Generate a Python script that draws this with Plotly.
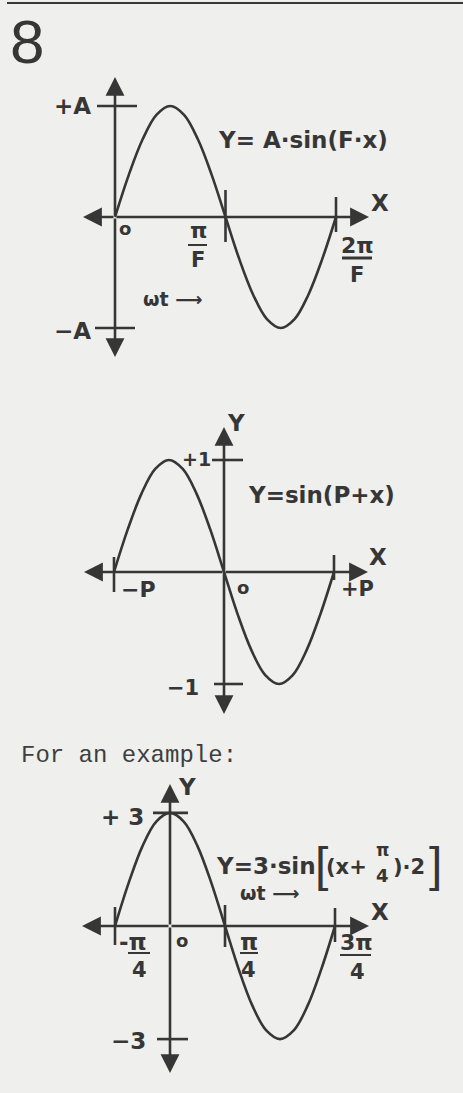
import plotly.graph_objects as go

# ---------------- values ----------------
# Graph 1 : Y = A·sin(F·x)   (x in units of π/F, y in units of A)
g1_x = [0, 0.125, 0.25, 0.375, 0.5, 0.625, 0.75, 0.875, 1.0,
        1.125, 1.25, 1.375, 1.5, 1.625, 1.75, 1.875, 2.0]
g1_y = [0, 0.38, 0.70, 0.92, 1.0, 0.92, 0.70, 0.38, 0,
        -0.38, -0.70, -0.92, -1.0, -0.92, -0.70, -0.38, 0]
g1_xticks = [1, 2]
g1_xtick_num = ["π", "2π"]
g1_xtick_den = ["F", "F"]
g1_yticks = [1, -1]
g1_ytick_labels = ["+A", "−A"]

# Graph 2 : Y = sin(P + x)   (x in units of P)
g2_x = [-1.0, -0.875, -0.75, -0.625, -0.5, -0.375, -0.25, -0.125, 0,
        0.125, 0.25, 0.375, 0.5, 0.625, 0.75, 0.875, 1.0]
g2_y = [0, 0.38, 0.70, 0.92, 1.0, 0.92, 0.70, 0.38, 0,
        -0.38, -0.70, -0.92, -1.0, -0.92, -0.70, -0.38, 0]
g2_xticks = [-1, 1]
g2_xtick_labels = ["−P", "+P"]
g2_yticks = [1, -1]
g2_ytick_labels = ["+1", "−1"]

# Graph 3 : Y = 3·sin[(x + π/4)·2]   (x in units of π/4)
g3_x = [-1.0, -0.75, -0.5, -0.25, 0, 0.25, 0.5, 0.75, 1.0,
        1.25, 1.5, 1.75, 2.0, 2.25, 2.5, 2.75, 3.0]
g3_y = [0, 1.15, 2.12, 2.77, 3.0, 2.77, 2.12, 1.15, 0,
        -1.15, -2.12, -2.77, -3.0, -2.77, -2.12, -1.15, 0]
g3_xticks = [-1, 1, 3]
g3_xtick_num = ["-π", "π", "3π"]
g3_xtick_den = ["4", "4", "4"]
g3_yticks = [3, -3]
g3_ytick_labels = ["+ 3", "−3"]

# ---------------- page / style ----------------
W, H = 463, 1093
BG = "#efefed"
INK = "#363636"
SANS = "DejaVu Sans"
LW = 2.6

# pixel calibration of every graph: origin (px), pixels per unit, arrow tips (px)
G = {
    1: dict(ox=115, oy=217, sx=110.5, sy=111, xl=83, xr=369, yt=77, yb=357,
            xt_ext=[(27, 25), (20, 15)], yt_ext=[(18, 22), (20, 20)]),
    2: dict(ox=224, oy=572, sx=110, sy=112, xl=84, xr=368, yt=427, yb=714,
            xt_ext=[(15, 20), (17, 8)], yt_ext=[(12, 19), (10, 19)]),
    3: dict(ox=170, oy=926, sx=55, sy=37.7, xl=82, xr=369, yt=784, yb=1073,
            xt_ext=[(19, 19), (21, 21), (18, 16)], yt_ext=[(17, 18), (13, 18)]),
}

fig = go.Figure()
shapes = []
annos = []


def ax_names(k):
    return ("x", "y") if k == 1 else (f"x{k}", f"y{k}")


def to_data(k, xp, yp):
    g = G[k]
    return (xp - g["ox"]) / g["sx"], (g["oy"] - yp) / g["sy"]


def paper(xp, yp):
    return xp / W, 1 - yp / H


def label(xp, yp, s, size, xanchor="center", family=SANS, bold=True, color=INK,
          yanchor="middle"):
    x, y = paper(xp, yp)
    annos.append(dict(x=x, y=y, xref="paper", yref="paper", text=(f"<b>{s}</b>" if bold else s),
                      showarrow=False, xanchor=xanchor, yanchor=yanchor,
                      font=dict(family=family, size=size, color=color)))


def bar(x0, x1, yp, w=2):
    a, b = paper(x0, yp)
    c, d = paper(x1, yp)
    shapes.append(dict(type="line", xref="paper", yref="paper", x0=a, y0=b, x1=c, y1=d,
                       line=dict(color=INK, width=w)))


def graph(k, xs, ys, xticks, yticks):
    g = G[k]
    xa, ya = ax_names(k)
    fig.add_trace(go.Scatter(x=xs, y=ys, mode="lines", xaxis=xa, yaxis=ya,
                             line=dict(color=INK, width=LW, shape="spline", smoothing=1.0),
                             hoverinfo="skip"))
    # axes with arrowheads
    xl, _ = to_data(k, g["xl"], g["oy"])
    xr, _ = to_data(k, g["xr"], g["oy"])
    _, yt = to_data(k, g["ox"], g["yt"])
    _, yb = to_data(k, g["ox"], g["yb"])
    for (tx, ty) in [(xl, 0), (xr, 0), (0, yt), (0, yb)]:
        annos.append(dict(x=tx, y=ty, ax=0, ay=0, xref=xa, yref=ya, axref=xa, ayref=ya,
                          text="", showarrow=True, arrowhead=2, arrowsize=1.45,
                          arrowwidth=LW, arrowcolor=INK, standoff=0))
    # tick marks
    for v, (up, dn) in zip(xticks, g["xt_ext"]):
        shapes.append(dict(type="line", xref=xa, yref=ya, x0=v, x1=v,
                           y0=up / g["sy"], y1=-dn / g["sy"], line=dict(color=INK, width=LW)))
    for v, (lf, rt) in zip(yticks, g["yt_ext"]):
        shapes.append(dict(type="line", xref=xa, yref=ya, y0=v, y1=v,
                           x0=-lf / g["sx"], x1=rt / g["sx"], line=dict(color=INK, width=LW)))


graph(1, g1_x, g1_y, g1_xticks, g1_yticks)
graph(2, g2_x, g2_y, g2_xticks, g2_yticks)
graph(3, g3_x, g3_y, g3_xticks, g3_yticks)

# ---------------- header ----------------
a, b = paper(7, 3)
c, d = paper(W, 3)
shapes.append(dict(type="line", xref="paper", yref="paper", x0=a, y0=b, x1=c, y1=d,
                   line=dict(color=INK, width=2)))
label(27, 41, "8", 62, family="Liberation Sans", bold=False)

# ---------------- graph 1 labels ----------------
label(93, 106, g1_ytick_labels[0], 23, xanchor="right")
label(93, 331, g1_ytick_labels[1], 23, xanchor="right")
label(125, 229, "o", 18)
label(198, 244.5, g1_xtick_num[0], 22, yanchor="bottom")
bar(188, 207, 245, 2)
label(198, 246, g1_xtick_den[0], 21, yanchor="top")
label(357, 246, g1_xtick_num[1], 22)
bar(342, 372, 258, 3)
label(357, 275, g1_xtick_den[1], 21)
label(380, 203, "X", 23)
label(216, 140, "Y= A·sin(F·x)", 23, xanchor="left")
label(141, 299, "ωt ⟶", 19, xanchor="left")

# ---------------- graph 2 labels ----------------
label(236, 423, "Y", 23)
label(196, 459, g2_ytick_labels[0], 19)
label(201, 688, g2_ytick_labels[1], 21, xanchor="right")
label(246, 495, "Y=sin(P+x)", 23, xanchor="left")
label(378, 557, "X", 23)
label(119, 589, g2_xtick_labels[0], 22, xanchor="left")
label(243, 587, "o", 18)
label(339, 589, g2_xtick_labels[1], 21, xanchor="left")

# ---------------- graph 3 labels ----------------
label(19, 755, "For an example:", 24, xanchor="left", family="Liberation Mono", bold=False,
      color="#3e3e3e")
label(187, 787, "Y", 23)
label(146, 817, g3_ytick_labels[0], 23, xanchor="right")
label(148, 1041, g3_ytick_labels[1], 23, xanchor="right")
label(182, 940, "o", 18)
label(380, 912, "X", 23)
label(117, 942, g3_xtick_num[0], 23, xanchor="left")
bar(128, 150, 953, 2)
label(139, 970, g3_xtick_den[0], 21)
label(249, 942, g3_xtick_num[1], 23)
bar(240, 258, 953, 2)
label(249, 970, g3_xtick_den[1], 21)
label(356, 942, g3_xtick_num[2], 22)
bar(340, 371, 955, 2)
label(357, 972, g3_xtick_den[2], 21)
# equation  Y=3·sin[(x+π/4)·2]
label(214, 866, "Y=3·sin", 23, xanchor="left")
label(321, 864, "[", 48, family="Liberation Sans", bold=False)
label(324, 867, "(x+", 21, xanchor="left")
label(382, 850, "π", 17)
label(382, 875, "4", 18)
label(391, 867, ")·2", 21, xanchor="left")
label(435, 864, "]", 48, family="Liberation Sans", bold=False)
label(238, 893, "ωt ⟶", 19, xanchor="left")

# ---------------- axes / layout ----------------
lay = dict(width=W, height=H, margin=dict(l=0, r=0, t=0, b=0),
           paper_bgcolor=BG, plot_bgcolor="rgba(0,0,0,0)", showlegend=False,
           shapes=shapes, annotations=annos)
for k in (1, 2, 3):
    g = G[k]
    xa, ya = ax_names(k)
    xkey = "xaxis" if k == 1 else f"xaxis{k}"
    ykey = "yaxis" if k == 1 else f"yaxis{k}"
    lay[xkey] = dict(domain=[0, 1], range=[(0 - g["ox"]) / g["sx"], (W - g["ox"]) / g["sx"]],
                     visible=False, fixedrange=True, anchor=ya)
    lay[ykey] = dict(domain=[0, 1], range=[(g["oy"] - H) / g["sy"], g["oy"] / g["sy"]],
                     visible=False, fixedrange=True, anchor=xa)
fig.update_layout(**lay)

fig.write_html("out.html", config={"displayModeBar": False},
               post_script="document.body.style.margin='0';")
